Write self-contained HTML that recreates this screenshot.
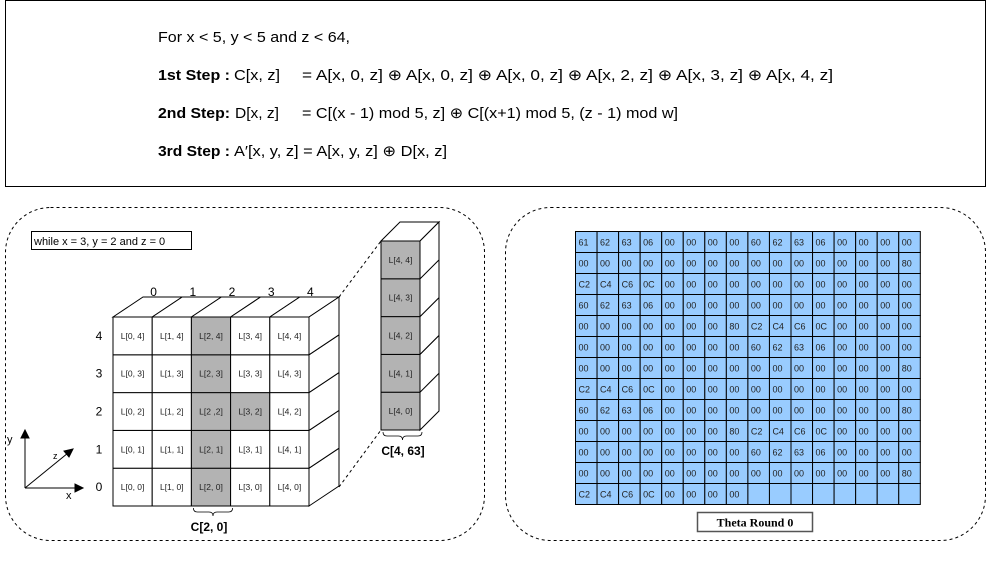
<!DOCTYPE html>
<html><head><meta charset="utf-8"><style>
body{margin:0;background:#fff;}
svg{display:block;font-family:"Liberation Sans",Arial,sans-serif;}
</style></head><body>
<svg id="s" width="989" height="566" viewBox="0 0 989 566" xmlns="http://www.w3.org/2000/svg">
<g>
<rect x="5.5" y="0.5" width="980" height="186" fill="#fff" stroke="#000" stroke-width="1"/>
<g font-size="15" fill="#000">
<text x="158" y="42" textLength="192" lengthAdjust="spacingAndGlyphs">For x &lt; 5, y &lt; 5 and z &lt; 64,</text>
<text x="158" y="80" font-weight="bold" textLength="72" lengthAdjust="spacingAndGlyphs">1st Step :</text>
<text x="234" y="80" textLength="46" lengthAdjust="spacingAndGlyphs">C[x, z]</text>
<text x="302" y="80" textLength="531" lengthAdjust="spacingAndGlyphs">= A[x, 0, z]  ⊕  A[x, 0, z]  ⊕ A[x, 0, z] ⊕ A[x, 2, z]  ⊕ A[x, 3, z]  ⊕ A[x, 4, z]</text>
<text x="158" y="118" font-weight="bold" textLength="72" lengthAdjust="spacingAndGlyphs">2nd Step:</text>
<text x="235" y="118" textLength="44" lengthAdjust="spacingAndGlyphs">D[x, z]</text>
<text x="302" y="118" textLength="376" lengthAdjust="spacingAndGlyphs">= C[(x - 1) mod 5, z] ⊕ C[(x+1) mod 5, (z - 1) mod w]</text>
<text x="158" y="156" font-weight="bold" textLength="72" lengthAdjust="spacingAndGlyphs">3rd Step :</text>
<text x="234" y="156" textLength="213" lengthAdjust="spacingAndGlyphs">A′[x, y, z] = A[x, y, z] ⊕ D[x, z]</text>
</g></g>
<rect x="5.5" y="207.5" width="479" height="333" rx="45" fill="none" stroke="#000" stroke-dasharray="3,3"/>
<rect x="505.5" y="207.5" width="480" height="333" rx="45" fill="none" stroke="#000" stroke-dasharray="3,3"/>
<g>
<rect x="31.5" y="231.5" width="160" height="18" fill="#fff" stroke="#000"/>
<text x="34" y="245" font-size="11">while x = 3, y = 2 and z = 0</text>
</g>
<g id="cube"></g>
<g id="col"></g>
<g id="grid"></g>
<g>
<rect x="697.5" y="512.5" width="115" height="19" fill="#fff" stroke="#555" stroke-width="1.5"/>
<text x="755" y="526.5" text-anchor="middle" font-family="Liberation Serif,serif" font-weight="bold" font-size="12">Theta Round 0</text>
</g>
<g stroke="#000" fill="#000">
<line x1="25" y1="488" x2="25" y2="436"/><path d="M25,430 l-4,8 h8z"/>
<line x1="25" y1="488" x2="77" y2="488"/><path d="M83,488 l-8,-4 v8z"/>
<line x1="25" y1="488" x2="68" y2="453"/><path d="M73,449 l-9,2 5,6z"/>
<text x="7" y="443" font-size="11" stroke="none">y</text>
<text x="66" y="499" font-size="11" stroke="none">x</text>
<text x="53" y="459" font-size="9" stroke="none">z</text>
</g>
</svg>
<script>
const NS="http://www.w3.org/2000/svg";
function mk(p,t,a){const e=document.createElementNS(NS,t);for(const k in a)e.setAttribute(k,a[k]);p.appendChild(e);return e;}
const xLabels=["0","1","2","3","4"];
const yLabels=["0","1","2","3","4"];
const highlighted=[[2,0],[2,1],[2,2],[2,3],[2,4],[3,2]];
const colLabels=["L[4, 0]","L[4, 1]","L[4, 2]","L[4, 3]","L[4, 4]"];
const gridRows=[
["61","62","63","06","00","00","00","00","60","62","63","06","00","00","00","00"],
["00","00","00","00","00","00","00","00","00","00","00","00","00","00","00","80"],
["C2","C4","C6","0C","00","00","00","00","00","00","00","00","00","00","00","00"],
["60","62","63","06","00","00","00","00","00","00","00","00","00","00","00","00"],
["00","00","00","00","00","00","00","80","C2","C4","C6","0C","00","00","00","00"],
["00","00","00","00","00","00","00","00","60","62","63","06","00","00","00","00"],
["00","00","00","00","00","00","00","00","00","00","00","00","00","00","00","80"],
["C2","C4","C6","0C","00","00","00","00","00","00","00","00","00","00","00","00"],
["60","62","63","06","00","00","00","00","00","00","00","00","00","00","00","80"],
["00","00","00","00","00","00","00","80","C2","C4","C6","0C","00","00","00","00"],
["00","00","00","00","00","00","00","00","60","62","63","06","00","00","00","00"],
["00","00","00","00","00","00","00","00","00","00","00","00","00","00","00","80"],
["C2","C4","C6","0C","00","00","00","00","","","","","","","",""]];

const cube=document.getElementById('cube');
const X0=113,Y0=317,CW=39.2,CH=37.8,DX=30,DY=-20;
const cx=i=>X0+i*CW, cy=j=>Y0+(4-j)*CH;
for(let i=0;i<5;i++){const p=mk(cube,'path',{d:`M${cx(i)},${Y0} l${DX},${DY} h${CW} l${-DX},${-DY}z`,fill:'#fff',stroke:'#000'});
}
for(let j=0;j<5;j++){const p=mk(cube,'path',{d:`M${cx(5)},${cy(j)} l${DX},${DY} v${CH} l${-DX},${-DY}z`,fill:'#fff',stroke:'#000'});
}
for(let i=0;i<5;i++)for(let j=0;j<5;j++){
 const hl=highlighted.some(h=>h[0]==i&&h[1]==j);
 const r=mk(cube,'rect',{x:cx(i),y:cy(j),width:CW,height:CH,fill:hl?'#b3b3b3':'#fff',stroke:'#000'});
 
 const t=mk(cube,'text',{x:cx(i)+CW/2,y:cy(j)+CH/2+3,'text-anchor':'middle','font-size':'8.5',fill:'#222'});
 t.textContent=`L[${i}${i==2&&j==2?' ,':', '}${j}]`;}
for(let i=0;i<5;i++){const t=mk(cube,'text',{x:cx(i)+CW/2+DX/2-6+12,y:296,'text-anchor':'middle','font-size':'12'});t.textContent=xLabels[i];
}
for(let j=0;j<5;j++){const t=mk(cube,'text',{x:99,y:cy(j)+CH/2+4,'text-anchor':'middle','font-size':'12'});t.textContent=yLabels[j];
}
mk(cube,'path',{d:`M${cx(2)+2},${Y0+5*CH+2} q0,4 4,4 h${CW/2-8} q4,0 4,4 q0,-4 4,-4 h${CW/2-8} q4,0 4,-4`,fill:'none',stroke:'#000','stroke-width':0.8});
const c1=mk(cube,'text',{x:209,y:531,'text-anchor':'middle','font-size':'12','font-weight':'bold'});c1.textContent='C[2, 0]';

mk(cube,'line',{x1:339,y1:297,x2:381,y2:241,stroke:'#000','stroke-dasharray':'3,3'});
mk(cube,'line',{x1:339,y1:487,x2:381,y2:430,stroke:'#000','stroke-dasharray':'3,3'});
const col=document.getElementById('col');
const PX=381,PY=241,PW=39,PH=37.8,PDX=19,PDY=-19;
mk(col,'path',{d:`M${PX},${PY} l${PDX},${PDY} h${PW} l${-PDX},${-PDY}z`,fill:'#fff',stroke:'#000'});
for(let k=0;k<5;k++){const y=PY+(4-k)*PH;
 mk(col,'path',{d:`M${PX+PW},${y} l${PDX},${PDY} v${PH} l${-PDX},${-PDY}z`,fill:'#fff',stroke:'#000'});
 const r=mk(col,'rect',{x:PX,y:y,width:PW,height:PH,fill:'#b3b3b3',stroke:'#000'});
 
 const t=mk(col,'text',{x:PX+PW/2,y:y+PH/2+3,'text-anchor':'middle','font-size':'8.5',fill:'#222'});t.textContent=colLabels[k];}
mk(col,'path',{d:`M${PX+2},${PY+5*PH+2} q0,4 4,4 h${PW/2-8} q4,0 4,4 q0,-4 4,-4 h${PW/2-8} q4,0 4,-4`,fill:'none',stroke:'#000','stroke-width':0.8});
const c2=mk(col,'text',{x:403,y:455,'text-anchor':'middle','font-size':'12','font-weight':'bold'});c2.textContent='C[4, 63]';

const grid=document.getElementById('grid');
const GX=575.5,GY=231.5,GW=21.55,GH=21.0;
gridRows.forEach((row,r)=>row.forEach((v,c)=>{
 const e=mk(grid,'rect',{x:GX+c*GW,y:GY+r*GH,width:GW,height:GH,fill:'#99ccff',stroke:'#000'});
 
 if(v){const t=mk(grid,'text',{x:GX+c*GW+3,y:GY+r*GH+14,'font-size':'9',fill:'#222'});t.textContent=v;}
}));
</script>
</body></html>
